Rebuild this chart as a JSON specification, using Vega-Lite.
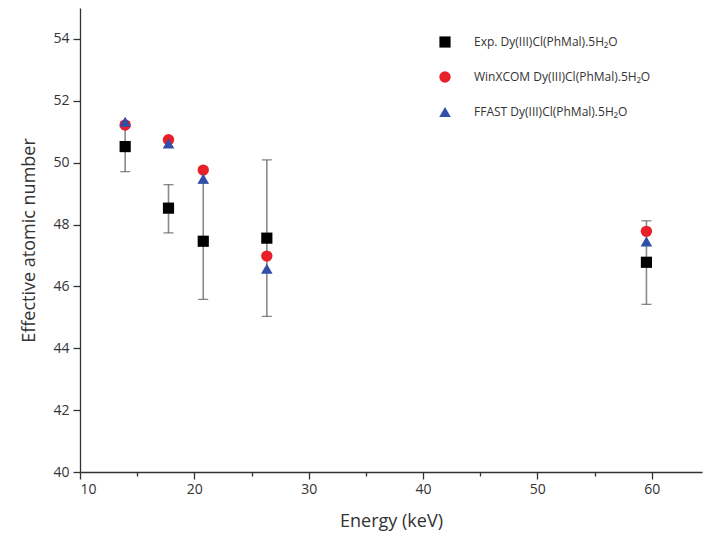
{
  "$schema": "https://vega.github.io/schema/vega-lite/v6.json",
  "width": 622,
  "height": 464,
  "autosize": {"type": "none"},
  "padding": {"left": 80, "top": 8, "right": 2, "bottom": 80},
  "background": "white",
  "config": {
    "view": {"stroke": null},
    "font": "Open Sans",
    "axis": {
      "domainColor": "#333",
      "tickColor": "#333",
      "labelColor": "#333",
      "titleColor": "#333",
      "grid": false,
      "labelFont": "Open Sans",
      "titleFont": "Open Sans",
      "labelFontSize": 14,
      "titleFontSize": 18,
      "titleFontWeight": "normal",
      "domainWidth": 1.3,
      "tickWidth": 1.3
    }
  },
  "datasets": {
    "pts": [
      {"series": "Exp. Dy(III)Cl(PhMal).5H₂O", "energy": 13.95, "z": 50.52, "lo": 49.71, "hi": 51.33},
      {"series": "Exp. Dy(III)Cl(PhMal).5H₂O", "energy": 17.74, "z": 48.53, "lo": 47.73, "hi": 49.29},
      {"series": "Exp. Dy(III)Cl(PhMal).5H₂O", "energy": 20.78, "z": 47.46, "lo": 45.58, "hi": 49.34},
      {"series": "Exp. Dy(III)Cl(PhMal).5H₂O", "energy": 26.34, "z": 47.56, "lo": 45.03, "hi": 50.09},
      {"series": "Exp. Dy(III)Cl(PhMal).5H₂O", "energy": 59.54, "z": 46.78, "lo": 45.42, "hi": 48.12},
      {"series": "WinXCOM Dy(III)Cl(PhMal).5H₂O", "energy": 13.95, "z": 51.22},
      {"series": "WinXCOM Dy(III)Cl(PhMal).5H₂O", "energy": 17.74, "z": 50.74},
      {"series": "WinXCOM Dy(III)Cl(PhMal).5H₂O", "energy": 20.78, "z": 49.76},
      {"series": "WinXCOM Dy(III)Cl(PhMal).5H₂O", "energy": 26.34, "z": 46.98},
      {"series": "WinXCOM Dy(III)Cl(PhMal).5H₂O", "energy": 59.54, "z": 47.78},
      {"series": "FFAST Dy(III)Cl(PhMal).5H₂O", "energy": 13.95, "z": 51.32},
      {"series": "FFAST Dy(III)Cl(PhMal).5H₂O", "energy": 17.74, "z": 50.62},
      {"series": "FFAST Dy(III)Cl(PhMal).5H₂O", "energy": 20.78, "z": 49.48},
      {"series": "FFAST Dy(III)Cl(PhMal).5H₂O", "energy": 26.34, "z": 46.57},
      {"series": "FFAST Dy(III)Cl(PhMal).5H₂O", "energy": 59.54, "z": 47.45}
    ]
  },
  "data": {"name": "pts"},
  "layer": [
    {
      "transform": [{"filter": "isValid(datum.lo)"}],
      "mark": {"type": "rule", "color": "#8a8a8a", "strokeWidth": 1.6},
      "encoding": {
        "x": {"field": "energy", "type": "quantitative"},
        "y": {"field": "lo", "type": "quantitative"},
        "y2": {"field": "hi"}
      }
    },
    {
      "transform": [{"filter": "isValid(datum.lo)"}, {"fold": ["lo", "hi"], "as": ["end", "val"]}],
      "mark": {"type": "tick", "orient": "horizontal", "color": "#555", "size": 10, "thickness": 1.3},
      "encoding": {
        "x": {"field": "energy", "type": "quantitative"},
        "y": {"field": "val", "type": "quantitative"}
      }
    },
    {
      "mark": {"type": "point", "filled": true, "opacity": 1},
      "encoding": {
        "x": {
          "field": "energy", "type": "quantitative",
          "scale": {"domain": [10, 64.4], "nice": false, "zero": false},
          "axis": {
            "title": "Energy (keV)",
            "values": [10, 15, 20, 25, 30, 35, 40, 45, 50, 55, 60],
            "labelExpr": "datum.value % 10 == 0 ? datum.label : ''",
            "tickSize": {"condition": {"test": "datum.value % 10 != 0", "value": 4}, "value": 7},
            "labelPadding": 3,
            "titlePadding": 16
          }
        },
        "y": {
          "field": "z", "type": "quantitative",
          "scale": {"domain": [40, 55], "nice": false, "zero": false},
          "axis": {
            "title": "Effective atomic number",
            "values": [40, 41, 42, 43, 44, 45, 46, 47, 48, 49, 50, 51, 52, 53, 54, 55],
            "labelExpr": "datum.value % 2 == 0 && datum.value < 55 ? datum.label : ''",
            "tickSize": {"condition": {"test": "datum.value % 2 != 0", "value": 4}, "value": 7},
            "labelPadding": 4,
            "titlePadding": 14
          }
        },
        "size": {
          "field": "series", "type": "nominal",
          "scale": {
            "domain": ["Exp. Dy(III)Cl(PhMal).5H₂O", "WinXCOM Dy(III)Cl(PhMal).5H₂O", "FFAST Dy(III)Cl(PhMal).5H₂O"],
            "range": [125, 135, 190]
          },
          "legend": null
        },
        "color": {
          "field": "series", "type": "nominal",
          "scale": {
            "domain": ["Exp. Dy(III)Cl(PhMal).5H₂O", "WinXCOM Dy(III)Cl(PhMal).5H₂O", "FFAST Dy(III)Cl(PhMal).5H₂O"],
            "range": ["#000000", "#e8202a", "#2f4fa8"]
          },
          "legend": {
            "title": null,
            "orient": "none",
            "legendX": 359,
            "legendY": 28,
            "padding": 0,
            "labelFont": "Open Sans",
            "labelFontSize": 12,
            "labelColor": "#333",
            "labelOffset": 23,
            "rowPadding": 23,
            "symbolSize": 125,
            "symbolStrokeWidth": 0,
            "labelLimit": 300,
            "encode": {
              "symbols": {
                "update": {
                  "size": {"signal": "datum.index == 2 ? 185 : 125"}
                }
              }
            }
          }
        },
        "shape": {
          "field": "series", "type": "nominal",
          "scale": {
            "domain": ["Exp. Dy(III)Cl(PhMal).5H₂O", "WinXCOM Dy(III)Cl(PhMal).5H₂O", "FFAST Dy(III)Cl(PhMal).5H₂O"],
            "range": ["square", "circle", "triangle-up"]
          }
        }
      }
    }
  ]
}
